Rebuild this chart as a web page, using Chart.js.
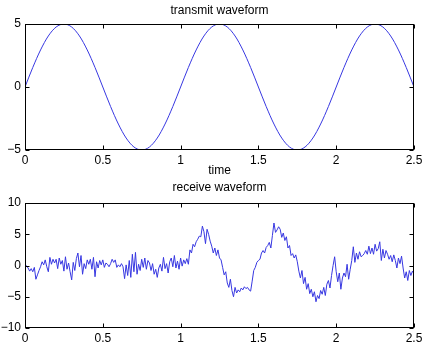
<!DOCTYPE html>
<html>
<head>
<meta charset="utf-8">
<script src="https://cdn.jsdelivr.net/npm/chart.js@4.4.0/dist/chart.umd.min.js"></script>
<style>
  html, body { margin: 0; padding: 0; background: #fff; }
  #wrap { position: relative; width: 423px; height: 346px; }
  canvas { position: absolute; left: 0; }
</style>
</head>
<body>
<div id="wrap">
  <canvas id="txChart" width="423" height="178" style="top:0"></canvas>
  <canvas id="rxChart" width="423" height="168" style="top:178px"></canvas>
</div>
<script>
// sample spacing of the two traces (seconds)
var txStep = 0.05;
var rxStep = 0.01;

var xTicks = [0, 0.5, 1, 1.5, 2, 2.5];
var txYTicks = [-5, 0, 5];
var rxYTicks = [-10, -5, 0, 5, 10];

// transmit waveform
var txValues = [
  0, 1.55, 2.94, 4.05, 4.76, 5, 4.76, 4.05, 2.94, 1.55,
  0, -1.55, -2.94, -4.05, -4.76, -5, -4.76, -4.05, -2.94, -1.55,
  0, 1.55, 2.94, 4.05, 4.76, 5, 4.76, 4.05, 2.94, 1.55,
  0, -1.55, -2.94, -4.05, -4.76, -5, -4.76, -4.05, -2.94, -1.55,
  0, 1.55, 2.94, 4.05, 4.76, 5, 4.76, 4.05, 2.94, 1.55,
  0
];

// receive waveform
var rxValues = [
  0.2, -0.1, -0.4, -0.9, -0.5, -1.0, -0.3, -2.2, -1.5, -0.8,
  -0.2, 0.6, 0.1, 0.9, -0.2, -1.0, 1.3, 0.2, 1.0, 0.4,
  1.0, -0.5, 1.2, 0.2, 0.8, -0.9, 1.4, -0.6, 0.4, -1.0,
  -2.3, 0.5, -0.8, 1.1, 2.0, -0.2, 1.6, -1.4, 0.3, -0.5,
  0.9, 0.2, 1.0, -0.6, 1.3, -1.8, 0.6, -0.4, 0.8, 0.1,
  0.9, -0.3, 0.4, 0.2, -0.2, 0.3, 1.0, 0.5, 0.9, -0.3,
  0.1, -0.2, 0.3, -0.2, -2.1, 0.1, -1.6, 0.8, -1.9, 1.8,
  -1.0, 2.1, -1.4, 0.2, -0.8, 1.0, -0.3, 1.2, -0.6, 0.8,
  0.4, -0.8, 0.3, -1.4, -0.6, -1.9, -0.4, 0.2, -0.9, 1.3,
  -0.5, 0.3, -1.2, 0.6, 1.2, -0.2, 1.6, -0.4, 0.7, -0.6,
  1.2, -0.1, 0.9, 0.3, 1.1, 0.2, 2.5, 2.0, 3.4, 3.0,
  3.8, 4.2, 4.7, 4.6, 6.3, 5.4, 3.5, 5.8, 5.0, 3.9,
  3.1, 2.0, 2.8, 1.6, 2.5, 1.2, 0.9, -0.3, -1.5, -1.0,
  -2.8, -3.5, -2.2, -4.0, -5.0, -3.5, -4.4, -3.9, -4.2, -3.6,
  -3.9, -3.4, -3.7, -3.5, -3.9, -4.1, -2.5, -0.8, -0.3, 0.5,
  0.8, 1.0, 2.0, 2.4, 2.0, 2.9, 3.2, 3.7, 2.8, 4.8,
  6.8, 5.3, 5.7, 6.2, 5.8, 4.5, 5.2, 4.0, 4.6, 2.8,
  3.2, 1.6, 1.9, 1.2, 1.7, 0.6, -0.9, -2.0, -0.8, -2.9,
  -1.9, -3.8, -2.9, -4.5, -3.8, -5.0, -4.2, -5.8, -4.8, -5.3,
  -4.0, -4.6, -3.5, -4.8, -3.0, -2.4, -3.6, -1.6, 0.0, 1.4,
  -1.0, -2.6, -1.2, -3.8, -2.0, -1.2, -1.8, 0.2, -2.2, -0.6,
  0.8, 3.0, 0.5, 2.0, 1.0, 2.2, 1.4, 1.6, 1.9, 2.4,
  1.8, 3.1, 1.9, 2.8, 1.8, 3.4, 2.3, 2.7, 3.8, 0.8,
  2.6, 1.2, 2.4, 1.8, 1.0, 1.6, 0.6, 1.7, 0.8, -0.4,
  1.2, 0.3, 1.5, -0.4, -2.0, -1.0, -2.4, -0.8, -1.6, -0.9,
  -1.3
];

var lineColor = 'rgb(55,55,225)';
var tickFont = { family: '"Liberation Sans", Arial, sans-serif', size: 12 };
var titleFont = { family: '"Liberation Sans", Arial, sans-serif', size: 12 };

function toPoints(values, step) {
  var pts = [];
  for (let i = 0; i < values.length; i++) {
    pts.push({ x: Math.round(i * step * 1000) / 1000, y: values[i] });
  }
  return pts;
}

function fmt(v) {
  return String(v).replace('-', '\u2212');
}

// black box round the plot, with short ticks pointing inward on all four sides
var framePlugin = {
  id: 'frame',
  afterDraw(chart) {
    var ctx = chart.ctx, a = chart.chartArea;
    var xs = chart.scales.x, ys = chart.scales.y;
    ctx.save();
    ctx.strokeStyle = '#000';
    ctx.lineWidth = 1;
    var l = Math.round(a.left) + 0.5, r = Math.round(a.right) - 0.5;
    var t = Math.round(a.top) + 0.5, b = Math.round(a.bottom) - 0.5;
    ctx.strokeRect(l, t, r - l, b - t);
    ctx.beginPath();
    xs.ticks.forEach(function(tk) {
      var px = Math.round(xs.getPixelForValue(tk.value)) + 0.5;
      ctx.moveTo(px, b); ctx.lineTo(px, b - 4);
      ctx.moveTo(px, t); ctx.lineTo(px, t + 4);
    });
    ys.ticks.forEach(function(tk) {
      var py = Math.round(ys.getPixelForValue(tk.value)) + 0.5;
      ctx.moveTo(l, py); ctx.lineTo(l + 4, py);
      ctx.moveTo(r, py); ctx.lineTo(r - 4, py);
    });
    ctx.stroke();
    // plot title, centred over the plot box
    var opt = chart.options.plugins.frame;
    ctx.fillStyle = '#000';
    ctx.font = titleFont.size + 'px ' + titleFont.family;
    ctx.textAlign = 'center';
    ctx.textBaseline = 'middle';
    ctx.fillText(opt.title, (a.left + a.right) / 2, opt.titleY);
    ctx.restore();
  }
};

function makeChart(id, values, step, yTicks, opts) {
  var ctx = document.getElementById(id).getContext('2d');
  return new Chart(ctx, {
    type: 'line',
    data: {
      datasets: [{
        data: toPoints(values, step),
        borderColor: lineColor,
        borderWidth: 1,
        pointRadius: 0,
        tension: opts.smooth ? 0.4 : 0,
        cubicInterpolationMode: opts.smooth ? 'monotone' : 'default',
        fill: false
      }]
    },
    options: {
      responsive: false,
      devicePixelRatio: 1,
      animation: false,
      events: [],
      layout: { padding: { top: opts.top, right: 9, left: 0, bottom: 0 } },
      plugins: {
        legend: { display: false },
        tooltip: { enabled: false },
        frame: { title: opts.title, titleY: opts.titleY }
      },
      scales: {
        x: {
          type: 'linear',
          min: 0, max: 2.5,
          afterBuildTicks: function(s) { s.ticks = xTicks.map(function(v) { return { value: v }; }); },
          afterFit: function(s) { s.height = opts.xHeight; s.paddingLeft = 0; s.paddingRight = 0; },
          grid: { display: false, drawTicks: false },
          border: { display: false },
          ticks: { font: tickFont, color: '#000', padding: 3, maxRotation: 0, autoSkip: false, callback: fmt },
          title: { display: !!opts.xTitle, text: opts.xTitle || '', font: tickFont, color: '#000', padding: { top: 0, bottom: 0 } }
        },
        y: {
          min: yTicks[0], max: yTicks[yTicks.length - 1],
          afterBuildTicks: function(s) { s.ticks = yTicks.map(function(v) { return { value: v }; }); },
          afterFit: function(s) { s.width = 25; s.paddingTop = 0; s.paddingBottom = 0; },
          grid: { display: false, drawTicks: false },
          border: { display: false },
          ticks: { font: tickFont, color: '#000', padding: 4, autoSkip: false, callback: fmt }
        }
      }
    },
    plugins: [framePlugin]
  });
}

makeChart('txChart', txValues, txStep, txYTicks,
  { title: 'transmit waveform', titleY: 11, top: 24, xHeight: 28, xTitle: 'time', smooth: true });
makeChart('rxChart', rxValues, rxStep, rxYTicks,
  { title: 'receive waveform', titleY: 10, top: 25, xHeight: 18, smooth: false });
</script>
</body>
</html>
